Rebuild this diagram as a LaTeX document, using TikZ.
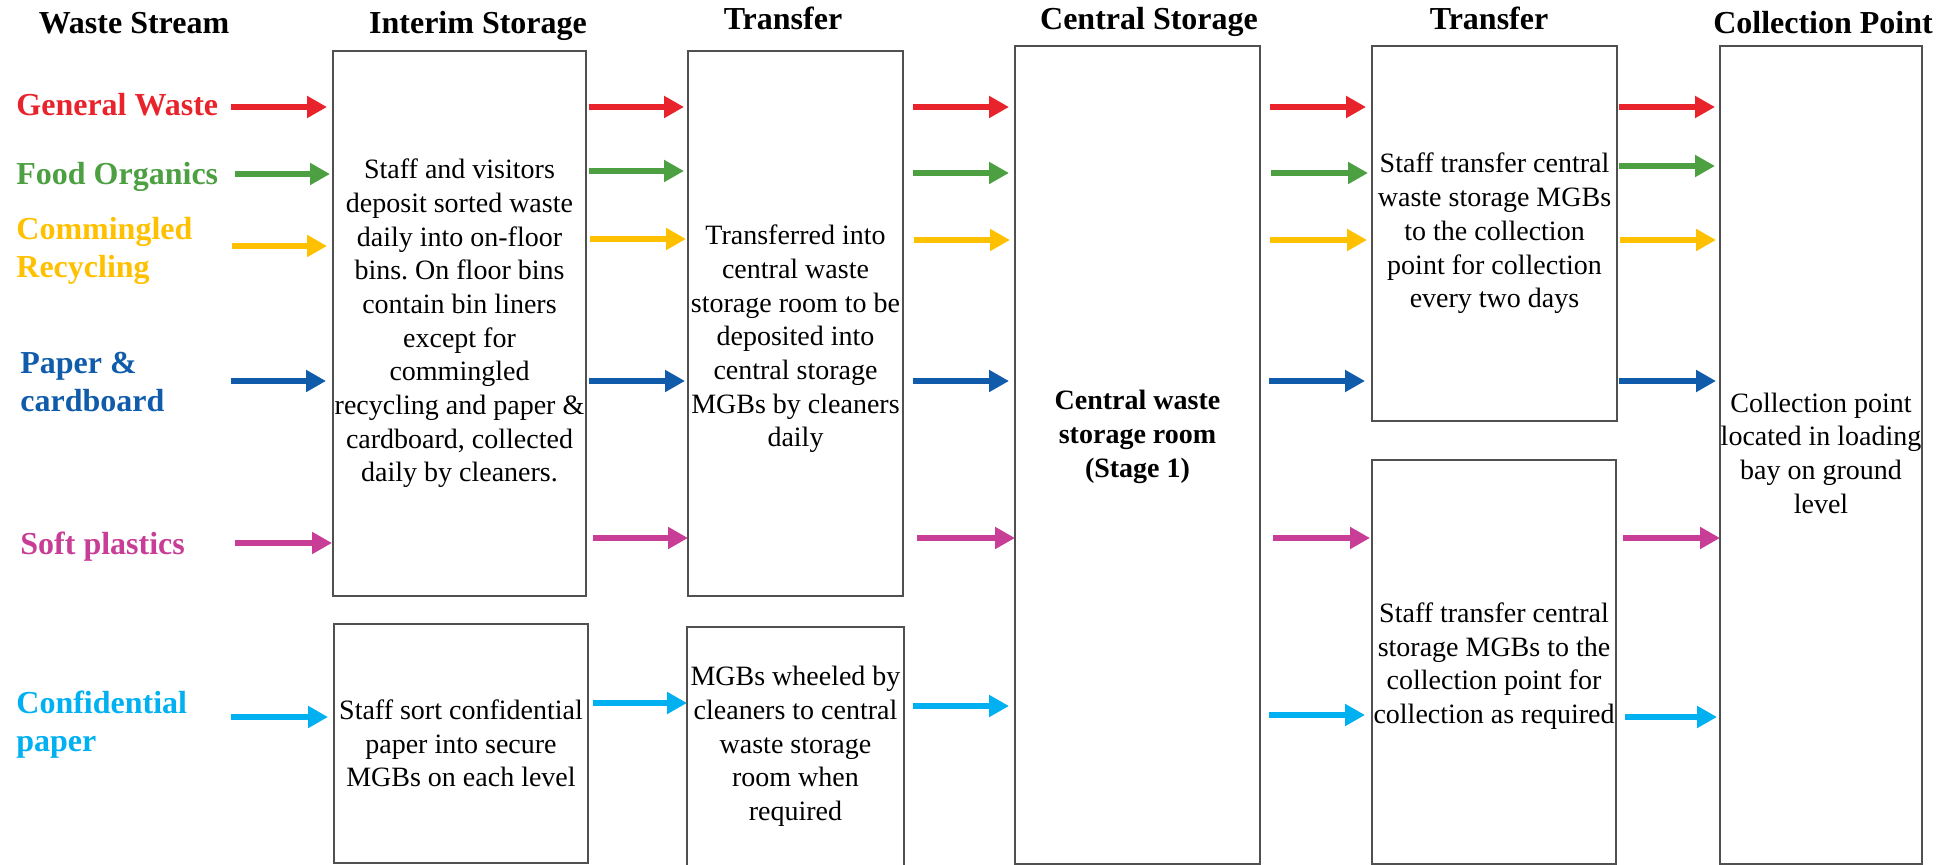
\documentclass[tikz,border=0pt]{standalone}
\usepackage{fontspec}
\setmainfont{Liberation Serif}
\usetikzlibrary{arrows.meta}
\definecolor{cRed}{RGB}{232,35,43}
\definecolor{cGreen}{RGB}{76,160,66}
\definecolor{cYellow}{RGB}{255,192,0}
\definecolor{cBlue}{RGB}{16,92,170}
\definecolor{cMag}{RGB}{200,62,150}
\definecolor{cCyan}{RGB}{0,176,240}
\definecolor{cBorder}{RGB}{80,80,80}
\newcommand\flowarrow[6]{\draw[flowarr,#1,shorten <=#5,shorten >=#6] (#2 |- 0,#4) -- (#3 |- 0,#4);}
\frenchspacing
\begin{document}
\begin{tikzpicture}[x=0.5pt,y=-0.5pt,
  box/.style={draw=cBorder,line width=0.9pt,inner sep=0pt,outer sep=0pt},
  boxtext/.style={align=center,inner sep=0pt,font=\fontsize{14pt}{16.85pt}\selectfont},
  head/.style={anchor=base,inner sep=0pt,font=\fontsize{16pt}{19pt}\selectfont\bfseries},
  lab/.style={anchor=base west,inner sep=0pt,align=left,font=\fontsize{16pt}{19pt}\selectfont\bfseries},
  flowarr/.style={line width=3pt,-{Triangle[length=10pt,width=10.5pt]}}]
\useasboundingbox (0,0) rectangle (1957,865);

% boxes
\node[box,minimum width=126.5pt,minimum height=272.5pt] (itop) at (459.5,323.5) {};
\node[box,minimum width=127pt,minimum height=119.5pt] (ibot) at (461,743.5) {};
\node[box,minimum width=107.5pt,minimum height=272.5pt] (t1top) at (795.5,323.5) {};
\node[box,minimum width=108.5pt,minimum height=119.5pt] (t1bot) at (795.5,746.5) {};
\node[box,minimum width=122.5pt,minimum height=409pt] (central) at (1137.5,455) {};
\node[box,minimum width=122.5pt,minimum height=187.5pt] (t2top) at (1494.5,233.5) {};
\node[box,minimum width=122pt,minimum height=202pt] (t2bot) at (1494,662) {};
\node[box,minimum width=101pt,minimum height=409pt] (coll) at (1821,455) {};

% box texts
\node[boxtext] (itopT) at (itop.center) {Staff and visitors\\deposit sorted waste\\daily into on-floor\\bins. On floor bins\\contain bin liners\\except for\\commingled\\recycling and paper \&\\cardboard, collected\\daily by cleaners.};
\node[boxtext] (t1topT) at ([yshift=-7.75pt]t1top.center) {Transferred into\\central waste\\storage room to be\\deposited into\\central storage\\MGBs by cleaners\\daily};
\node[boxtext,font=\fontsize{14pt}{16.85pt}\selectfont\bfseries] (centralT) at ([yshift=9pt]central.center) {Central waste\\storage room\\(Stage 1)};
\node[boxtext] (t2topT) at (t2top.center) {Staff transfer central\\waste storage MGBs\\to the collection\\point for collection\\every two days};
\node[boxtext] (t2botT) at ([yshift=-2pt]t2bot.center) {Staff transfer central\\storage MGBs to the\\collection point for\\collection as required};
\node[boxtext] (collT) at ([yshift=1pt]coll.center) {Collection point\\located in loading\\bay on ground\\level};
\node[boxtext] (ibotT) at (ibot.center) {Staff sort confidential\\paper into secure\\MGBs on each level};
\node[boxtext] (t1botT) at (t1bot.center) {MGBs wheeled by\\cleaners to central\\waste storage\\room when\\required};

% headers
\node[head] (hWaste) at (134,34) {Waste Stream};
\node[head] (hInterim) at (478,34) {Interim Storage};
\node[head] (hTrans1) at (783,30) {Transfer};
\node[head] (hCentral) at (1149,30) {Central Storage};
\node[head] (hTrans2) at (1489,30) {Transfer};
\node[head] (hColl) at (1823,34) {Collection Point};

% stream labels
\node[lab,text=cRed] (lGen) at (16,116) {General Waste};
\node[lab,text=cGreen] (lFood) at (16,185) {Food Organics};
\node[lab,text=cYellow,anchor=north west] (lComm) at (16,217) {Commingled\\Recycling};
\node[lab,text=cBlue,anchor=north west] (lPaper) at (20,352) {Paper \&\\cardboard};
\node[lab,text=cMag] (lSoft) at (20,554) {Soft plastics};
\node[lab,text=cCyan,anchor=north west] (lConf) at (16,691) {Confidential\\paper};

\coordinate (src) at (231,0);

% column 1
\flowarrow{cRed}{src}{itop.west}{107}{0pt}{3pt}
\flowarrow{cGreen}{src}{itop.west}{174}{2pt}{1.5pt}
\flowarrow{cYellow}{src}{itop.west}{246}{0.5pt}{3pt}
\flowarrow{cBlue}{src}{itop.west}{381}{0pt}{3.5pt}
\flowarrow{cMag}{src}{itop.west}{543}{2pt}{0.5pt}
\flowarrow{cCyan}{src}{ibot.west}{717}{0pt}{3pt}
% column 2
\flowarrow{cRed}{itop.east}{t1top.west}{107}{1.5pt}{2pt}
\flowarrow{cGreen}{itop.east}{t1top.west}{171}{1.5pt}{2pt}
\flowarrow{cYellow}{itop.east}{t1top.west}{239}{2pt}{1pt}
\flowarrow{cBlue}{itop.east}{t1top.west}{381}{1.5pt}{1.5pt}
\flowarrow{cMag}{itop.east}{t1top.west}{538}{3.5pt}{0pt}
\flowarrow{cCyan}{ibot.east}{t1bot.west}{703}{2.5pt}{0pt}
% column 3
\flowarrow{cRed}{t1top.east}{central.west}{107}{5pt}{3pt}
\flowarrow{cGreen}{t1top.east}{central.west}{173}{5pt}{3pt}
\flowarrow{cYellow}{t1top.east}{central.west}{240}{5.5pt}{2.5pt}
\flowarrow{cBlue}{t1top.east}{central.west}{381}{5pt}{3pt}
\flowarrow{cMag}{t1top.east}{central.west}{538}{7pt}{0pt}
\flowarrow{cCyan}{t1bot.east}{central.west}{706}{4.5pt}{3pt}
% column 4
\flowarrow{cRed}{central.east}{t2top.west}{107}{5pt}{3pt}
\flowarrow{cGreen}{central.east}{t2top.west}{173}{5.5pt}{2pt}
\flowarrow{cYellow}{central.east}{t2top.west}{240}{5pt}{2.5pt}
\flowarrow{cBlue}{central.east}{t2top.west}{381}{4.5pt}{3.5pt}
\flowarrow{cMag}{central.east}{t2bot.west}{538}{6.5pt}{1pt}
\flowarrow{cCyan}{central.east}{t2bot.west}{715}{4.5pt}{3.5pt}
% column 5
\flowarrow{cRed}{t2top.east}{coll.west}{107}{1pt}{2.5pt}
\flowarrow{cGreen}{t2top.east}{coll.west}{166}{1pt}{2.5pt}
\flowarrow{cYellow}{t2top.east}{coll.west}{240}{1.5pt}{2pt}
\flowarrow{cBlue}{t2top.east}{coll.west}{381}{1pt}{2pt}
\flowarrow{cMag}{t2bot.east}{coll.west}{538}{3.5pt}{0pt}
\flowarrow{cCyan}{t2bot.east}{coll.west}{717}{4.5pt}{1.5pt}
\end{tikzpicture}
\end{document}
